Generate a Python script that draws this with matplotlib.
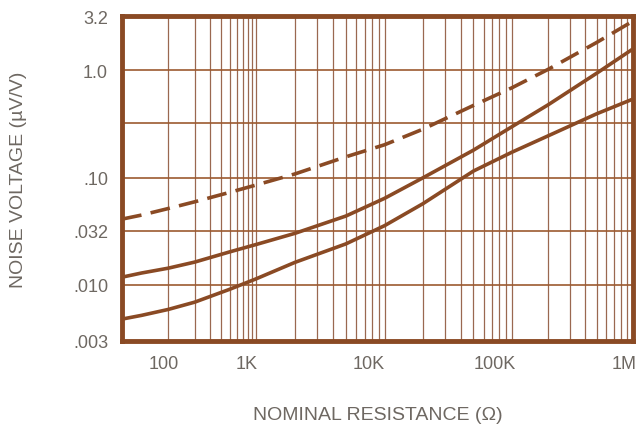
import numpy as np
import matplotlib
matplotlib.use("Agg")
import matplotlib.pyplot as plt
from matplotlib.transforms import ScaledTranslation
from matplotlib.ticker import NullFormatter

plt.rcParams['font.family'] = ['Liberation Sans', 'DejaVu Sans']

# resistance (ohm)
R = [30, 50, 100, 200, 500, 1e3, 2e3, 5e3, 1e4, 2e4, 5e4, 1e5, 2e5, 5e5, 1e6]
# noise voltage (uV/V) for the three curves
dashed = [0.041, 0.0447, 0.0514, 0.0594, 0.0728, 0.0853, 0.108, 0.156, 0.202,
          0.282, 0.470, 0.685, 1.02, 1.81, 2.87]
upper = [0.0118, 0.0129, 0.0143, 0.0163, 0.0203, 0.0238, 0.0302, 0.0438, 0.064,
         0.0993, 0.180, 0.297, 0.477, 0.935, 1.58]
lower = [0.0048, 0.0052, 0.0059, 0.0069, 0.0091, 0.0114, 0.0162, 0.0241, 0.0356,
         0.057, 0.115, 0.172, 0.245, 0.392, 0.539]

xtick_vals = [100, 1e3, 1e4, 1e5, 1e6]
xtick_labels = ['100', '1K', '10K', '100K', '1M']
ytick_vals = [3.2, 1.0, 0.1, 0.032, 0.01, 0.003]
ytick_labels = ['3.2', '1.0', '.10', '.032', '.010', '.003']
ygrid_vals = [0.32]
xgrid_vals = [m * 10**d for d in range(2, 6) for m in range(2, 10)]

brown = '#8a4a24'
gridc = '#9a6850'
textc = '#6e6862'

# the printed log paper has uneven decade widths
dec_log = np.array([np.log10(30), 2, 3, 4, 5, 6])
dec_pos = np.array([123, 169, 257, 385, 512, 633], dtype=float)

def fwd(x):
    x = np.asarray(x, dtype=float)
    lx = np.log10(np.clip(x, 1e-3, None))
    return np.interp(lx, dec_log, dec_pos) + \
        np.where(lx < dec_log[0], (lx - dec_log[0]) * 88, 0) + \
        np.where(lx > dec_log[-1], (lx - dec_log[-1]) * 121, 0)

def inv(p):
    p = np.asarray(p, dtype=float)
    lx = np.interp(p, dec_pos, dec_log)
    lx = lx + np.where(p < dec_pos[0], (p - dec_pos[0]) / 88, 0) + \
        np.where(p > dec_pos[-1], (p - dec_pos[-1]) / 121, 0)
    return 10**lx

fig = plt.figure(figsize=(6.36, 4.31), dpi=100)
ax = fig.add_axes([122/636, 1-342/431, (633-122)/636, (342-17)/431])
ax.set_xscale('function', functions=(fwd, inv))
ax.set_yscale('log')
ax.set_xlim(30, 1e6)
ax.set_ylim(0.003, 3.2)

ax.plot(R, dashed, color=brown, lw=2.6, dashes=(5.5, 2.6))
ax.plot(R, upper, color=brown, lw=2.6)
ax.plot(R, lower, color=brown, lw=2.6)

ax.set_xticks(xgrid_vals, minor=True)
ax.xaxis.set_minor_formatter(NullFormatter())
ax.set_yticks(ygrid_vals, minor=True)
ax.yaxis.set_minor_formatter(NullFormatter())
ax.grid(which='both', axis='x', color=gridc, lw=0.9)
ax.grid(which='both', axis='y', color='#9c5a30', lw=1.2)
ax.set_axisbelow(True)

ax.set_xticks(xtick_vals, xtick_labels)
ax.set_yticks(ytick_vals, ytick_labels)
ax.tick_params(which='both', length=0)
ax.tick_params(axis='x', pad=10, labelsize=13, labelcolor=textc)
ax.tick_params(axis='y', pad=10, labelsize=13, labelcolor=textc)

offsets = [-4, -10, -16, -17, -9]
for lbl, dx in zip(ax.get_xticklabels(), offsets):
    lbl.set_transform(lbl.get_transform() + ScaledTranslation(dx/100, 0, fig.dpi_scale_trans))

for s in ax.spines.values():
    s.set_color(brown)
    s.set_linewidth(3.5)

ax.set_xlabel('NOMINAL RESISTANCE (Ω)', fontsize=14, color=textc)
ax.set_ylabel('NOISE VOLTAGE (µV/V)', fontsize=14, color=textc)
ax.xaxis.set_label_coords(0.5, -0.2)
ax.yaxis.set_label_coords(-0.186, 0.5)

fig.savefig('out.png', dpi=100)
